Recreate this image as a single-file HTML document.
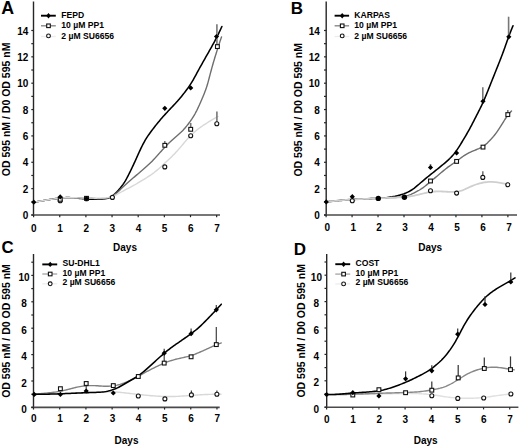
<!DOCTYPE html>
<html><head><meta charset="utf-8"><style>
html,body{margin:0;padding:0;background:#fff;}
body{width:520px;height:447px;overflow:hidden;}
svg{display:block;}
text{font-family:"Liberation Sans",sans-serif;font-weight:bold;fill:#000;}
</style></head><body>
<svg width="520" height="447" viewBox="0 0 520 447">
<rect width="520" height="447" fill="#fff"/>
<text x="1.30" y="13.60" font-size="17.80" text-anchor="start" font-family="Liberation Sans" font-weight="bold" >A</text>
<line x1="33.50" y1="1.50" x2="33.50" y2="215.70" stroke="#262626" stroke-width="1.4"/>
<line x1="31.30" y1="215.00" x2="220.00" y2="215.00" stroke="#4a4a4a" stroke-width="1.6"/>
<line x1="31.30" y1="215.00" x2="33.50" y2="215.00" stroke="#262626" stroke-width="1.2"/>
<text x="28.40" y="219.20" font-size="10.00" text-anchor="end" font-family="Liberation Sans" font-weight="bold" >0</text>
<line x1="31.30" y1="201.82" x2="33.50" y2="201.82" stroke="#262626" stroke-width="1.2"/>
<line x1="31.30" y1="188.64" x2="33.50" y2="188.64" stroke="#262626" stroke-width="1.2"/>
<text x="28.40" y="192.84" font-size="10.00" text-anchor="end" font-family="Liberation Sans" font-weight="bold" >2</text>
<line x1="31.30" y1="175.46" x2="33.50" y2="175.46" stroke="#262626" stroke-width="1.2"/>
<line x1="31.30" y1="162.28" x2="33.50" y2="162.28" stroke="#262626" stroke-width="1.2"/>
<text x="28.40" y="166.48" font-size="10.00" text-anchor="end" font-family="Liberation Sans" font-weight="bold" >4</text>
<line x1="31.30" y1="149.10" x2="33.50" y2="149.10" stroke="#262626" stroke-width="1.2"/>
<line x1="31.30" y1="135.92" x2="33.50" y2="135.92" stroke="#262626" stroke-width="1.2"/>
<text x="28.40" y="140.12" font-size="10.00" text-anchor="end" font-family="Liberation Sans" font-weight="bold" >6</text>
<line x1="31.30" y1="122.74" x2="33.50" y2="122.74" stroke="#262626" stroke-width="1.2"/>
<line x1="31.30" y1="109.56" x2="33.50" y2="109.56" stroke="#262626" stroke-width="1.2"/>
<text x="28.40" y="113.76" font-size="10.00" text-anchor="end" font-family="Liberation Sans" font-weight="bold" >8</text>
<line x1="31.30" y1="96.38" x2="33.50" y2="96.38" stroke="#262626" stroke-width="1.2"/>
<line x1="31.30" y1="83.20" x2="33.50" y2="83.20" stroke="#262626" stroke-width="1.2"/>
<text x="28.40" y="87.40" font-size="10.00" text-anchor="end" font-family="Liberation Sans" font-weight="bold" >10</text>
<line x1="31.30" y1="70.02" x2="33.50" y2="70.02" stroke="#262626" stroke-width="1.2"/>
<line x1="31.30" y1="56.84" x2="33.50" y2="56.84" stroke="#262626" stroke-width="1.2"/>
<text x="28.40" y="61.04" font-size="10.00" text-anchor="end" font-family="Liberation Sans" font-weight="bold" >12</text>
<line x1="31.30" y1="43.66" x2="33.50" y2="43.66" stroke="#262626" stroke-width="1.2"/>
<line x1="31.30" y1="30.48" x2="33.50" y2="30.48" stroke="#262626" stroke-width="1.2"/>
<text x="28.40" y="34.68" font-size="10.00" text-anchor="end" font-family="Liberation Sans" font-weight="bold" >14</text>
<line x1="33.60" y1="215.00" x2="33.60" y2="217.20" stroke="#262626" stroke-width="1.2"/>
<text x="33.90" y="231.70" font-size="10.00" text-anchor="middle" font-family="Liberation Sans" font-weight="bold" >0</text>
<line x1="59.75" y1="215.00" x2="59.75" y2="217.20" stroke="#262626" stroke-width="1.2"/>
<text x="60.05" y="231.70" font-size="10.00" text-anchor="middle" font-family="Liberation Sans" font-weight="bold" >1</text>
<line x1="85.90" y1="215.00" x2="85.90" y2="217.20" stroke="#262626" stroke-width="1.2"/>
<text x="86.20" y="231.70" font-size="10.00" text-anchor="middle" font-family="Liberation Sans" font-weight="bold" >2</text>
<line x1="112.05" y1="215.00" x2="112.05" y2="217.20" stroke="#262626" stroke-width="1.2"/>
<text x="112.35" y="231.70" font-size="10.00" text-anchor="middle" font-family="Liberation Sans" font-weight="bold" >3</text>
<line x1="138.20" y1="215.00" x2="138.20" y2="217.20" stroke="#262626" stroke-width="1.2"/>
<text x="138.50" y="231.70" font-size="10.00" text-anchor="middle" font-family="Liberation Sans" font-weight="bold" >4</text>
<line x1="164.35" y1="215.00" x2="164.35" y2="217.20" stroke="#262626" stroke-width="1.2"/>
<text x="164.65" y="231.70" font-size="10.00" text-anchor="middle" font-family="Liberation Sans" font-weight="bold" >5</text>
<line x1="190.50" y1="215.00" x2="190.50" y2="217.20" stroke="#262626" stroke-width="1.2"/>
<text x="190.80" y="231.70" font-size="10.00" text-anchor="middle" font-family="Liberation Sans" font-weight="bold" >6</text>
<line x1="216.65" y1="215.00" x2="216.65" y2="217.20" stroke="#262626" stroke-width="1.2"/>
<text x="216.95" y="231.70" font-size="10.00" text-anchor="middle" font-family="Liberation Sans" font-weight="bold" >7</text>
<text x="125.00" y="250.90" font-size="10.00" text-anchor="middle" font-family="Liberation Sans" font-weight="bold" >Days</text>
<text transform="translate(10.20,109.40) rotate(-90)" font-size="10.50" text-anchor="middle" font-family="Liberation Sans" font-weight="bold">OD 595 nM / D0 OD 595 nM</text>
<line x1="41.00" y1="15.70" x2="55.80" y2="15.70" stroke="#000" stroke-width="1.9"/>
<path d="M48.50,13.00L50.80,15.70L48.50,18.40L46.20,15.70Z" fill="#000"/>
<line x1="41.00" y1="25.80" x2="55.80" y2="25.80" stroke="#888" stroke-width="1.4"/>
<rect x="46.70" y="24.00" width="3.60" height="3.60" fill="#fff" stroke="#111" stroke-width="1.1"/>
<line x1="41.00" y1="36.50" x2="55.80" y2="36.50" stroke="#ececec" stroke-width="1.3"/>
<circle cx="48.50" cy="35.90" r="1.90" fill="#fff" stroke="#111" stroke-width="1.1"/>
<text x="61.30" y="17.80" font-size="8.60" text-anchor="start" font-family="Liberation Sans" font-weight="bold" >FEPD</text>
<text x="61.30" y="27.90" font-size="8.60" text-anchor="start" font-family="Liberation Sans" font-weight="bold" >10 &#181;M PP1</text>
<text x="61.30" y="38.60" font-size="8.60" text-anchor="start" font-family="Liberation Sans" font-weight="bold" >2 &#181;M SU6656</text>
<path d="M33.60,202.20L35.08,201.96L36.56,201.71L38.04,201.47L39.52,201.23L41.00,200.98L42.48,200.74L43.96,200.50L45.44,200.26L46.92,200.02L48.40,199.78L49.88,199.54L51.37,199.30L52.85,199.07L54.33,198.84L55.81,198.62L57.30,198.41L58.78,198.22L60.27,198.05L61.76,197.90L63.25,197.78L64.74,197.69L66.24,197.64L67.73,197.62L69.23,197.63L70.73,197.67L72.22,197.74L73.72,197.83L75.21,197.94L76.70,198.08L78.19,198.23L79.68,198.38L81.17,198.54L82.66,198.70L84.16,198.84L85.65,198.96L87.14,199.07L88.64,199.15L90.13,199.21L91.63,199.25L93.13,199.27L94.63,199.27L96.13,199.27L97.63,199.25L99.12,199.23L100.61,199.18L102.10,199.11L103.57,198.99L105.02,198.81L106.45,198.54L107.84,198.17L109.19,197.69L110.49,197.10L111.73,196.38L112.92,195.57L114.05,194.66L115.14,193.67L116.19,192.63L117.21,191.55L118.20,190.44L119.18,189.31L120.14,188.16L121.07,187.00L121.99,185.81L122.87,184.61L123.72,183.38L124.53,182.13L125.31,180.86L126.06,179.56L126.78,178.25L127.48,176.93L128.17,175.60L128.85,174.26L129.52,172.92L130.18,171.58L130.84,170.23L131.49,168.88L132.14,167.53L132.78,166.17L133.42,164.81L134.05,163.45L134.68,162.09L135.30,160.73L135.92,159.36L136.54,157.99L137.15,156.63L137.77,155.26L138.38,153.89L139.00,152.52L139.63,151.16L140.26,149.80L140.90,148.44L141.55,147.09L142.22,145.75L142.90,144.42L143.60,143.09L144.32,141.78L145.06,140.48L145.83,139.19L146.62,137.92L147.43,136.66L148.26,135.42L149.12,134.19L149.99,132.97L150.87,131.76L151.77,130.55L152.67,129.36L153.58,128.17L154.50,126.98L155.43,125.80L156.36,124.63L157.30,123.46L158.25,122.30L159.21,121.15L160.17,120.00L161.15,118.86L162.13,117.73L163.12,116.60L164.12,115.48L165.13,114.37L166.14,113.26L167.15,112.16L168.17,111.06L169.20,109.97L170.23,108.87L171.26,107.79L172.29,106.70L173.33,105.62L174.36,104.53L175.39,103.44L176.41,102.34L177.42,101.23L178.41,100.11L179.39,98.97L180.35,97.83L181.30,96.67L182.24,95.50L183.17,94.32L184.09,93.14L185.00,91.95L185.91,90.75L186.80,89.55L187.68,88.33L188.55,87.11L189.40,85.88L190.23,84.63L191.04,83.37L191.83,82.10L192.60,80.82L193.36,79.52L194.10,78.22L194.82,76.91L195.54,75.59L196.25,74.27L196.96,72.95L197.67,71.63L198.39,70.31L199.11,69.00L199.83,67.69L200.56,66.37L201.30,65.07L202.03,63.76L202.77,62.45L203.51,61.15L204.24,59.84L204.98,58.54L205.72,57.23L206.46,55.93L207.20,54.62L207.94,53.32L208.68,52.01L209.42,50.71L210.16,49.40L210.90,48.10L211.64,46.79L212.37,45.48L213.09,44.17L213.81,42.85L214.53,41.53L215.23,40.21L215.92,38.88L216.61,37.55L217.28,36.21L217.94,34.87L218.59,33.54L219.23,32.21L219.86,30.88L220.48,29.56L221.09,28.24L221.70,26.94L221.90,26.50" fill="none" stroke="#000" stroke-width="1.55" stroke-linecap="round" stroke-linejoin="round"/>
<path d="M33.60,202.20L35.08,201.95L36.56,201.71L38.04,201.47L39.52,201.22L41.00,200.98L42.48,200.74L43.96,200.49L45.44,200.25L46.92,200.01L48.40,199.77L49.88,199.54L51.37,199.30L52.85,199.08L54.33,198.86L55.82,198.65L57.30,198.46L58.79,198.28L60.28,198.13L61.77,197.99L63.27,197.88L64.76,197.79L66.26,197.72L67.76,197.67L69.25,197.65L70.75,197.64L72.25,197.64L73.75,197.66L75.25,197.68L76.75,197.71L78.25,197.75L79.75,197.79L81.25,197.82L82.75,197.86L84.25,197.91L85.74,197.96L87.24,198.03L88.74,198.10L90.23,198.20L91.73,198.31L93.22,198.42L94.71,198.55L96.21,198.66L97.70,198.76L99.19,198.83L100.68,198.86L102.16,198.84L103.63,198.75L105.10,198.59L106.54,198.34L107.96,197.99L109.34,197.55L110.69,197.01L111.99,196.36L113.24,195.62L114.45,194.80L115.61,193.90L116.74,192.95L117.84,191.95L118.93,190.93L120.00,189.89L121.08,188.84L122.15,187.80L123.24,186.76L124.33,185.74L125.43,184.72L126.54,183.71L127.65,182.71L128.78,181.72L129.91,180.74L131.05,179.76L132.19,178.79L133.33,177.82L134.48,176.85L135.62,175.88L136.77,174.91L137.91,173.94L139.05,172.97L140.19,171.99L141.33,171.02L142.47,170.04L143.61,169.06L144.74,168.07L145.86,167.08L146.98,166.08L148.08,165.07L149.18,164.05L150.26,163.01L151.33,161.96L152.38,160.89L153.42,159.81L154.45,158.72L155.47,157.62L156.48,156.51L157.48,155.40L158.48,154.28L159.47,153.16L160.47,152.04L161.47,150.92L162.48,149.81L163.49,148.70L164.52,147.61L165.55,146.52L166.59,145.44L167.64,144.38L168.71,143.32L169.79,142.28L170.88,141.26L171.98,140.24L173.10,139.24L174.23,138.26L175.36,137.28L176.50,136.30L177.63,135.32L178.75,134.34L179.86,133.33L180.95,132.31L182.02,131.26L183.06,130.18L184.07,129.08L185.06,127.96L186.03,126.82L186.97,125.66L187.90,124.48L188.80,123.29L189.69,122.08L190.56,120.86L191.41,119.63L192.25,118.39L193.05,117.13L193.84,115.85L194.60,114.56L195.33,113.26L196.03,111.94L196.72,110.61L197.38,109.26L198.02,107.91L198.65,106.55L199.27,105.18L199.88,103.81L200.49,102.44L201.09,101.07L201.68,99.69L202.27,98.31L202.85,96.93L203.43,95.54L204.00,94.16L204.55,92.76L205.09,91.37L205.61,89.96L206.11,88.55L206.59,87.13L207.04,85.70L207.47,84.27L207.89,82.83L208.29,81.38L208.68,79.93L209.06,78.48L209.43,77.03L209.81,75.58L210.19,74.13L210.57,72.68L210.96,71.23L211.35,69.78L211.74,68.34L212.14,66.89L212.55,65.45L212.96,64.00L213.38,62.56L213.80,61.12L214.23,59.69L214.66,58.25L215.10,56.82L215.54,55.38L215.99,53.95L216.44,52.52L216.88,51.09L217.33,49.66L217.79,48.23L218.24,46.80L218.70,45.38L219.15,43.96L219.62,42.56L220.08,41.15L220.55,39.76L221.03,38.38L221.50,37.00L221.50,37.00" fill="none" stroke="#6e6e6e" stroke-width="1.40" stroke-linecap="round" stroke-linejoin="round"/>
<path d="M33.60,202.20L35.08,201.95L36.56,201.71L38.04,201.47L39.52,201.22L41.00,200.98L42.48,200.74L43.96,200.49L45.44,200.25L46.92,200.01L48.40,199.78L49.88,199.54L51.37,199.31L52.85,199.08L54.33,198.87L55.82,198.66L57.30,198.46L58.79,198.29L60.28,198.13L61.77,198.00L63.27,197.89L64.76,197.80L66.26,197.74L67.76,197.70L69.25,197.69L70.75,197.69L72.25,197.71L73.75,197.74L75.25,197.78L76.75,197.82L78.25,197.87L79.75,197.92L81.25,197.96L82.74,198.00L84.24,198.04L85.74,198.07L87.24,198.09L88.74,198.11L90.24,198.13L91.74,198.15L93.24,198.17L94.74,198.18L96.24,198.18L97.74,198.17L99.24,198.15L100.74,198.11L102.23,198.05L103.72,197.96L105.21,197.83L106.69,197.65L108.15,197.43L109.60,197.14L111.03,196.78L112.44,196.35L113.81,195.84L115.17,195.26L116.50,194.62L117.81,193.93L119.11,193.21L120.41,192.49L121.72,191.76L123.03,191.04L124.35,190.33L125.68,189.64L127.01,188.95L128.35,188.27L129.68,187.59L131.01,186.90L132.33,186.19L133.65,185.47L134.95,184.74L136.25,183.99L137.54,183.22L138.82,182.45L140.10,181.66L141.37,180.88L142.65,180.10L143.93,179.31L145.21,178.53L146.49,177.75L147.76,176.96L149.02,176.16L150.27,175.34L151.51,174.49L152.72,173.62L153.92,172.72L155.09,171.80L156.25,170.85L157.40,169.89L158.53,168.91L159.65,167.91L160.76,166.91L161.87,165.90L162.98,164.89L164.08,163.87L165.18,162.85L166.28,161.83L167.37,160.80L168.47,159.77L169.55,158.74L170.63,157.70L171.70,156.65L172.76,155.59L173.81,154.52L174.85,153.44L175.88,152.35L176.90,151.25L177.90,150.14L178.90,149.01L179.88,147.89L180.86,146.75L181.83,145.61L182.80,144.46L183.76,143.31L184.73,142.16L185.70,141.02L186.67,139.88L187.66,138.75L188.66,137.64L189.68,136.55L190.73,135.48L191.79,134.43L192.88,133.41L194.00,132.41L195.14,131.44L196.30,130.49L197.47,129.57L198.67,128.66L199.87,127.78L201.09,126.91L202.32,126.05L203.56,125.20L204.81,124.37L206.06,123.55L207.32,122.74L208.59,121.94L209.86,121.16L211.14,120.39L212.42,119.63L213.71,118.89L214.99,118.16L216.28,117.44L217.57,116.74L218.00,116.50" fill="none" stroke="#d8d8d8" stroke-width="1.40" stroke-linecap="round" stroke-linejoin="round"/>
<line x1="216.90" y1="45.00" x2="216.90" y2="24.30" stroke="#777" stroke-width="1.60"/>
<line x1="216.90" y1="123.70" x2="216.90" y2="111.50" stroke="#777" stroke-width="1.60"/>
<line x1="190.70" y1="129.30" x2="190.70" y2="123.00" stroke="#777" stroke-width="1.60"/>
<line x1="164.80" y1="145.30" x2="164.80" y2="141.00" stroke="#777" stroke-width="1.60"/>
<circle cx="60.20" cy="200.80" r="2.00" fill="#fff" stroke="#111" stroke-width="1.1"/>
<circle cx="86.50" cy="198.80" r="2.00" fill="#fff" stroke="#111" stroke-width="1.1"/>
<circle cx="112.40" cy="197.40" r="2.00" fill="#fff" stroke="#111" stroke-width="1.1"/>
<circle cx="164.80" cy="166.90" r="2.00" fill="#fff" stroke="#111" stroke-width="1.1"/>
<circle cx="190.70" cy="135.80" r="2.00" fill="#fff" stroke="#111" stroke-width="1.1"/>
<circle cx="216.80" cy="123.70" r="2.00" fill="#fff" stroke="#111" stroke-width="1.1"/>
<rect x="58.30" y="197.40" width="3.80" height="3.80" fill="#fff" stroke="#111" stroke-width="1.1"/>
<rect x="84.60" y="196.40" width="3.80" height="3.80" fill="#fff" stroke="#111" stroke-width="1.1"/>
<rect x="162.90" y="143.40" width="3.80" height="3.80" fill="#fff" stroke="#111" stroke-width="1.1"/>
<rect x="188.80" y="127.40" width="3.80" height="3.80" fill="#fff" stroke="#111" stroke-width="1.1"/>
<rect x="215.50" y="44.70" width="3.80" height="3.80" fill="#fff" stroke="#111" stroke-width="1.1"/>
<path d="M33.80,199.60L36.40,202.20L33.80,204.80L31.20,202.20Z" fill="#000"/>
<path d="M60.20,194.30L62.80,196.90L60.20,199.50L57.60,196.90Z" fill="#000"/>
<path d="M86.50,196.00L89.10,198.60L86.50,201.20L83.90,198.60Z" fill="#000"/>
<path d="M164.80,105.70L167.40,108.30L164.80,110.90L162.20,108.30Z" fill="#000"/>
<path d="M190.70,85.30L193.30,87.90L190.70,90.50L188.10,87.90Z" fill="#000"/>
<path d="M216.50,33.90L219.10,36.50L216.50,39.10L213.90,36.50Z" fill="#000"/>
<text x="290.80" y="14.00" font-size="17.00" text-anchor="start" font-family="Liberation Sans" font-weight="bold" >B</text>
<line x1="326.20" y1="1.50" x2="326.20" y2="215.70" stroke="#262626" stroke-width="1.4"/>
<line x1="324.00" y1="215.00" x2="517.00" y2="215.00" stroke="#4a4a4a" stroke-width="1.6"/>
<line x1="324.00" y1="215.00" x2="326.20" y2="215.00" stroke="#262626" stroke-width="1.2"/>
<text x="319.80" y="219.20" font-size="10.00" text-anchor="end" font-family="Liberation Sans" font-weight="bold" >0</text>
<line x1="324.00" y1="201.82" x2="326.20" y2="201.82" stroke="#262626" stroke-width="1.2"/>
<line x1="324.00" y1="188.64" x2="326.20" y2="188.64" stroke="#262626" stroke-width="1.2"/>
<text x="319.80" y="192.84" font-size="10.00" text-anchor="end" font-family="Liberation Sans" font-weight="bold" >2</text>
<line x1="324.00" y1="175.46" x2="326.20" y2="175.46" stroke="#262626" stroke-width="1.2"/>
<line x1="324.00" y1="162.28" x2="326.20" y2="162.28" stroke="#262626" stroke-width="1.2"/>
<text x="319.80" y="166.48" font-size="10.00" text-anchor="end" font-family="Liberation Sans" font-weight="bold" >4</text>
<line x1="324.00" y1="149.10" x2="326.20" y2="149.10" stroke="#262626" stroke-width="1.2"/>
<line x1="324.00" y1="135.92" x2="326.20" y2="135.92" stroke="#262626" stroke-width="1.2"/>
<text x="319.80" y="140.12" font-size="10.00" text-anchor="end" font-family="Liberation Sans" font-weight="bold" >6</text>
<line x1="324.00" y1="122.74" x2="326.20" y2="122.74" stroke="#262626" stroke-width="1.2"/>
<line x1="324.00" y1="109.56" x2="326.20" y2="109.56" stroke="#262626" stroke-width="1.2"/>
<text x="319.80" y="113.76" font-size="10.00" text-anchor="end" font-family="Liberation Sans" font-weight="bold" >8</text>
<line x1="324.00" y1="96.38" x2="326.20" y2="96.38" stroke="#262626" stroke-width="1.2"/>
<line x1="324.00" y1="83.20" x2="326.20" y2="83.20" stroke="#262626" stroke-width="1.2"/>
<text x="319.80" y="87.40" font-size="10.00" text-anchor="end" font-family="Liberation Sans" font-weight="bold" >10</text>
<line x1="324.00" y1="70.02" x2="326.20" y2="70.02" stroke="#262626" stroke-width="1.2"/>
<line x1="324.00" y1="56.84" x2="326.20" y2="56.84" stroke="#262626" stroke-width="1.2"/>
<text x="319.80" y="61.04" font-size="10.00" text-anchor="end" font-family="Liberation Sans" font-weight="bold" >12</text>
<line x1="324.00" y1="43.66" x2="326.20" y2="43.66" stroke="#262626" stroke-width="1.2"/>
<line x1="324.00" y1="30.48" x2="326.20" y2="30.48" stroke="#262626" stroke-width="1.2"/>
<text x="319.80" y="34.68" font-size="10.00" text-anchor="end" font-family="Liberation Sans" font-weight="bold" >14</text>
<line x1="326.10" y1="215.00" x2="326.10" y2="217.20" stroke="#262626" stroke-width="1.2"/>
<text x="327.20" y="231.30" font-size="10.00" text-anchor="middle" font-family="Liberation Sans" font-weight="bold" >0</text>
<line x1="352.07" y1="215.00" x2="352.07" y2="217.20" stroke="#262626" stroke-width="1.2"/>
<text x="353.17" y="231.30" font-size="10.00" text-anchor="middle" font-family="Liberation Sans" font-weight="bold" >1</text>
<line x1="378.04" y1="215.00" x2="378.04" y2="217.20" stroke="#262626" stroke-width="1.2"/>
<text x="379.14" y="231.30" font-size="10.00" text-anchor="middle" font-family="Liberation Sans" font-weight="bold" >2</text>
<line x1="404.01" y1="215.00" x2="404.01" y2="217.20" stroke="#262626" stroke-width="1.2"/>
<text x="405.11" y="231.30" font-size="10.00" text-anchor="middle" font-family="Liberation Sans" font-weight="bold" >3</text>
<line x1="429.98" y1="215.00" x2="429.98" y2="217.20" stroke="#262626" stroke-width="1.2"/>
<text x="431.08" y="231.30" font-size="10.00" text-anchor="middle" font-family="Liberation Sans" font-weight="bold" >4</text>
<line x1="455.95" y1="215.00" x2="455.95" y2="217.20" stroke="#262626" stroke-width="1.2"/>
<text x="457.05" y="231.30" font-size="10.00" text-anchor="middle" font-family="Liberation Sans" font-weight="bold" >5</text>
<line x1="481.92" y1="215.00" x2="481.92" y2="217.20" stroke="#262626" stroke-width="1.2"/>
<text x="483.02" y="231.30" font-size="10.00" text-anchor="middle" font-family="Liberation Sans" font-weight="bold" >6</text>
<line x1="507.89" y1="215.00" x2="507.89" y2="217.20" stroke="#262626" stroke-width="1.2"/>
<text x="508.99" y="231.30" font-size="10.00" text-anchor="middle" font-family="Liberation Sans" font-weight="bold" >7</text>
<text x="430.20" y="250.80" font-size="10.00" text-anchor="middle" font-family="Liberation Sans" font-weight="bold" >Days</text>
<text transform="translate(301.90,109.80) rotate(-90)" font-size="10.50" text-anchor="middle" font-family="Liberation Sans" font-weight="bold">OD 595 nM / D0 OD 595 nM</text>
<line x1="334.60" y1="15.70" x2="349.10" y2="15.70" stroke="#000" stroke-width="1.9"/>
<path d="M342.20,13.00L344.50,15.70L342.20,18.40L339.90,15.70Z" fill="#000"/>
<line x1="334.60" y1="25.80" x2="349.10" y2="25.80" stroke="#888" stroke-width="1.4"/>
<rect x="340.40" y="24.00" width="3.60" height="3.60" fill="#fff" stroke="#111" stroke-width="1.1"/>
<line x1="334.60" y1="36.50" x2="349.10" y2="36.50" stroke="#ececec" stroke-width="1.3"/>
<circle cx="342.20" cy="35.90" r="1.90" fill="#fff" stroke="#111" stroke-width="1.1"/>
<text x="354.30" y="17.80" font-size="8.60" text-anchor="start" font-family="Liberation Sans" font-weight="bold" >KARPAS</text>
<text x="354.30" y="27.90" font-size="8.60" text-anchor="start" font-family="Liberation Sans" font-weight="bold" >10 &#181;M PP1</text>
<text x="354.30" y="38.60" font-size="8.60" text-anchor="start" font-family="Liberation Sans" font-weight="bold" >2 &#181;M SU6656</text>
<path d="M326.30,201.90L327.79,201.74L329.28,201.58L330.77,201.42L332.27,201.26L333.76,201.10L335.25,200.95L336.74,200.80L338.24,200.66L339.73,200.52L341.22,200.38L342.72,200.25L344.21,200.13L345.71,200.01L347.20,199.89L348.70,199.78L350.19,199.67L351.69,199.57L353.19,199.48L354.68,199.39L356.18,199.30L357.68,199.22L359.18,199.15L360.68,199.08L362.17,199.01L363.67,198.94L365.17,198.88L366.67,198.82L368.17,198.75L369.67,198.69L371.17,198.62L372.66,198.56L374.16,198.49L375.66,198.41L377.16,198.33L378.66,198.24L380.15,198.15L381.65,198.05L383.14,197.94L384.64,197.81L386.13,197.67L387.62,197.51L389.10,197.33L390.59,197.12L392.06,196.88L393.53,196.60L395.00,196.30L396.45,195.96L397.91,195.60L399.35,195.21L400.79,194.79L402.21,194.35L403.63,193.87L405.02,193.35L406.40,192.79L407.75,192.17L409.07,191.50L410.36,190.77L411.62,189.99L412.85,189.15L414.05,188.27L415.22,187.35L416.38,186.41L417.53,185.44L418.67,184.47L419.81,183.49L420.94,182.52L422.08,181.54L423.23,180.57L424.37,179.60L425.52,178.64L426.68,177.69L427.84,176.74L429.01,175.80L430.18,174.86L431.35,173.92L432.53,172.99L433.70,172.06L434.87,171.12L436.05,170.19L437.22,169.25L438.39,168.31L439.56,167.37L440.72,166.42L441.88,165.47L443.03,164.51L444.18,163.55L445.32,162.57L446.45,161.59L447.56,160.59L448.66,159.57L449.74,158.54L450.79,157.48L451.82,156.39L452.82,155.28L453.78,154.14L454.71,152.97L455.61,151.78L456.48,150.57L457.33,149.33L458.16,148.09L458.98,146.83L459.78,145.56L460.57,144.29L461.35,143.01L462.13,141.73L462.91,140.45L463.68,139.16L464.45,137.87L465.21,136.58L465.97,135.29L466.72,133.99L467.47,132.69L468.21,131.38L468.94,130.07L469.66,128.76L470.38,127.44L471.09,126.12L471.79,124.79L472.48,123.46L473.17,122.13L473.86,120.80L474.54,119.46L475.22,118.13L475.90,116.79L476.59,115.45L477.27,114.12L477.95,112.78L478.63,111.45L479.31,110.11L479.98,108.77L480.65,107.43L481.31,106.08L481.95,104.72L482.58,103.36L483.20,102.00L483.80,100.63L484.40,99.25L484.98,97.87L485.56,96.49L486.13,95.10L486.70,93.71L487.26,92.32L487.82,90.93L488.38,89.54L488.94,88.14L489.49,86.75L490.05,85.36L490.60,83.96L491.16,82.57L491.71,81.18L492.27,79.78L492.83,78.39L493.38,77.00L493.94,75.60L494.50,74.21L495.05,72.82L495.61,71.43L496.17,70.03L496.72,68.64L497.28,67.25L497.84,65.85L498.39,64.46L498.95,63.07L499.50,61.67L500.05,60.28L500.60,58.88L501.14,57.48L501.68,56.08L502.21,54.68L502.74,53.28L503.26,51.87L503.77,50.46L504.28,49.05L504.78,47.64L505.28,46.22L505.77,44.81L506.27,43.39L506.77,41.98L507.28,40.56L507.79,39.15L508.30,37.75L508.82,36.34L509.35,34.94L509.89,33.54L510.43,32.15L510.97,30.76L511.52,29.37L512.08,27.99L512.63,26.62L513.00,25.70" fill="none" stroke="#000" stroke-width="1.55" stroke-linecap="round" stroke-linejoin="round"/>
<path d="M326.30,201.90L327.79,201.71L329.28,201.53L330.77,201.35L332.25,201.16L333.74,200.99L335.23,200.81L336.72,200.65L338.22,200.48L339.71,200.33L341.20,200.18L342.69,200.04L344.19,199.90L345.68,199.78L347.18,199.67L348.67,199.56L350.17,199.46L351.67,199.37L353.16,199.29L354.66,199.21L356.16,199.14L357.66,199.07L359.16,199.00L360.65,198.94L362.15,198.87L363.65,198.81L365.15,198.75L366.65,198.69L368.15,198.62L369.65,198.56L371.15,198.50L372.64,198.44L374.14,198.37L375.64,198.31L377.14,198.25L378.64,198.18L380.14,198.12L381.64,198.06L383.13,197.99L384.63,197.93L386.13,197.86L387.63,197.80L389.13,197.73L390.63,197.66L392.13,197.59L393.62,197.52L395.12,197.44L396.62,197.36L398.11,197.26L399.60,197.14L401.08,196.99L402.55,196.79L404.01,196.53L405.45,196.22L406.87,195.83L408.28,195.38L409.67,194.86L411.04,194.30L412.40,193.69L413.75,193.05L415.09,192.39L416.42,191.70L417.73,190.99L419.03,190.25L420.31,189.48L421.57,188.67L422.80,187.83L424.00,186.95L425.19,186.05L426.36,185.11L427.51,184.16L428.65,183.19L429.79,182.22L430.94,181.25L432.08,180.28L433.23,179.31L434.38,178.35L435.53,177.40L436.69,176.44L437.84,175.48L438.99,174.52L440.13,173.55L441.28,172.58L442.42,171.61L443.56,170.64L444.71,169.68L445.88,168.74L447.06,167.83L448.25,166.93L449.47,166.06L450.70,165.21L451.94,164.38L453.18,163.54L454.41,162.70L455.64,161.85L456.86,160.98L458.06,160.09L459.26,159.20L460.45,158.30L461.65,157.41L462.87,156.54L464.10,155.70L465.36,154.90L466.63,154.13L467.94,153.41L469.26,152.72L470.61,152.08L471.97,151.46L473.34,150.87L474.72,150.30L476.11,149.73L477.48,149.15L478.85,148.56L480.19,147.93L481.50,147.25L482.77,146.51L483.99,145.71L485.17,144.83L486.31,143.89L487.40,142.90L488.47,141.87L489.51,140.80L490.53,139.72L491.54,138.61L492.53,137.49L493.51,136.36L494.46,135.20L495.38,134.03L496.28,132.83L497.15,131.62L498.00,130.39L498.83,129.14L499.64,127.88L500.45,126.62L501.24,125.34L502.03,124.07L502.82,122.79L503.61,121.52L504.40,120.25L505.21,119.00L506.03,117.76L506.87,116.55L507.75,115.37L508.65,114.23L509.58,113.13L510.53,112.06L511.50,111.00L511.50,111.00" fill="none" stroke="#6e6e6e" stroke-width="1.40" stroke-linecap="round" stroke-linejoin="round"/>
<path d="M326.30,201.90L327.79,201.73L329.28,201.57L330.77,201.40L332.26,201.24L333.75,201.08L335.25,200.92L336.74,200.77L338.23,200.62L339.72,200.48L341.22,200.34L342.71,200.21L344.21,200.08L345.70,199.97L347.20,199.86L348.69,199.75L350.19,199.66L351.69,199.57L353.18,199.48L354.68,199.40L356.18,199.32L357.68,199.25L359.18,199.17L360.68,199.10L362.17,199.03L363.67,198.96L365.17,198.89L366.67,198.82L368.17,198.76L369.67,198.69L371.16,198.62L372.66,198.55L374.16,198.49L375.66,198.42L377.16,198.35L378.66,198.29L380.16,198.22L381.65,198.16L383.15,198.10L384.65,198.03L386.15,197.97L387.65,197.91L389.15,197.85L390.65,197.79L392.14,197.73L393.64,197.66L395.14,197.60L396.64,197.53L398.14,197.46L399.64,197.38L401.13,197.30L402.63,197.20L404.12,197.08L405.61,196.94L407.10,196.77L408.58,196.58L410.06,196.36L411.54,196.11L413.01,195.84L414.48,195.55L415.95,195.24L417.41,194.91L418.87,194.57L420.33,194.22L421.78,193.86L423.24,193.50L424.69,193.14L426.15,192.80L427.61,192.48L429.07,192.19L430.54,191.94L432.02,191.73L433.50,191.58L434.99,191.48L436.48,191.42L437.97,191.40L439.47,191.41L440.96,191.45L442.46,191.51L443.96,191.59L445.45,191.67L446.95,191.76L448.44,191.83L449.94,191.89L451.43,191.92L452.92,191.92L454.41,191.87L455.88,191.76L457.34,191.58L458.79,191.32L460.22,190.98L461.63,190.56L463.02,190.07L464.39,189.51L465.75,188.91L467.10,188.28L468.45,187.64L469.80,187.01L471.16,186.39L472.53,185.81L473.92,185.26L475.32,184.74L476.73,184.26L478.16,183.83L479.60,183.43L481.05,183.07L482.51,182.75L483.97,182.48L485.45,182.26L486.93,182.09L488.41,181.97L489.89,181.91L491.38,181.91L492.87,181.97L494.35,182.07L495.84,182.22L497.31,182.40L498.78,182.61L500.25,182.85L501.69,183.10L503.13,183.37L504.54,183.64L505.94,183.92L507.34,184.21L507.80,184.30" fill="none" stroke="#cfcfcf" stroke-width="1.80" stroke-linecap="round" stroke-linejoin="round"/>
<line x1="508.60" y1="36.80" x2="508.60" y2="16.70" stroke="#777" stroke-width="1.60"/>
<line x1="482.80" y1="101.50" x2="482.80" y2="87.20" stroke="#777" stroke-width="1.60"/>
<line x1="482.80" y1="177.40" x2="482.80" y2="171.30" stroke="#777" stroke-width="1.60"/>
<line x1="507.80" y1="114.60" x2="507.80" y2="110.00" stroke="#777" stroke-width="1.60"/>
<line x1="430.50" y1="167.50" x2="430.50" y2="164.00" stroke="#777" stroke-width="1.60"/>
<circle cx="352.30" cy="200.80" r="2.00" fill="#fff" stroke="#111" stroke-width="1.1"/>
<circle cx="430.50" cy="190.70" r="2.00" fill="#fff" stroke="#111" stroke-width="1.1"/>
<circle cx="456.60" cy="193.10" r="2.00" fill="#fff" stroke="#111" stroke-width="1.1"/>
<circle cx="482.80" cy="177.40" r="2.00" fill="#fff" stroke="#111" stroke-width="1.1"/>
<circle cx="507.80" cy="184.80" r="2.00" fill="#fff" stroke="#111" stroke-width="1.1"/>
<rect x="428.60" y="179.10" width="3.80" height="3.80" fill="#fff" stroke="#111" stroke-width="1.1"/>
<rect x="454.70" y="159.50" width="3.80" height="3.80" fill="#fff" stroke="#111" stroke-width="1.1"/>
<rect x="481.10" y="145.20" width="3.80" height="3.80" fill="#fff" stroke="#111" stroke-width="1.1"/>
<rect x="505.90" y="112.70" width="3.80" height="3.80" fill="#fff" stroke="#111" stroke-width="1.1"/>
<path d="M326.30,199.30L328.90,201.90L326.30,204.50L323.70,201.90Z" fill="#000"/>
<path d="M352.30,194.10L354.90,196.70L352.30,199.30L349.70,196.70Z" fill="#000"/>
<path d="M430.50,164.90L433.10,167.50L430.50,170.10L427.90,167.50Z" fill="#000"/>
<path d="M456.60,150.40L459.20,153.00L456.60,155.60L454.00,153.00Z" fill="#000"/>
<path d="M483.00,98.70L485.60,101.30L483.00,103.90L480.40,101.30Z" fill="#000"/>
<path d="M508.80,34.20L511.40,36.80L508.80,39.40L506.20,36.80Z" fill="#000"/>
<circle cx="378.30" cy="198.40" r="2.7" fill="#000"/>
<circle cx="404.40" cy="197.20" r="2.7" fill="#000"/>
<text x="1.40" y="253.30" font-size="16.80" text-anchor="start" font-family="Liberation Sans" font-weight="bold" >C</text>
<line x1="33.50" y1="254.00" x2="33.50" y2="408.10" stroke="#262626" stroke-width="1.4"/>
<line x1="31.30" y1="407.40" x2="219.70" y2="407.40" stroke="#4a4a4a" stroke-width="1.6"/>
<line x1="31.30" y1="407.40" x2="33.50" y2="407.40" stroke="#262626" stroke-width="1.2"/>
<text x="24.00" y="413.00" font-size="10.00" text-anchor="middle" font-family="Liberation Sans" font-weight="bold" >0</text>
<line x1="31.30" y1="394.20" x2="33.50" y2="394.20" stroke="#262626" stroke-width="1.2"/>
<line x1="31.30" y1="381.00" x2="33.50" y2="381.00" stroke="#262626" stroke-width="1.2"/>
<text x="24.00" y="386.60" font-size="10.00" text-anchor="middle" font-family="Liberation Sans" font-weight="bold" >2</text>
<line x1="31.30" y1="367.80" x2="33.50" y2="367.80" stroke="#262626" stroke-width="1.2"/>
<line x1="31.30" y1="354.60" x2="33.50" y2="354.60" stroke="#262626" stroke-width="1.2"/>
<text x="24.00" y="360.20" font-size="10.00" text-anchor="middle" font-family="Liberation Sans" font-weight="bold" >4</text>
<line x1="31.30" y1="341.40" x2="33.50" y2="341.40" stroke="#262626" stroke-width="1.2"/>
<line x1="31.30" y1="328.20" x2="33.50" y2="328.20" stroke="#262626" stroke-width="1.2"/>
<text x="24.00" y="333.80" font-size="10.00" text-anchor="middle" font-family="Liberation Sans" font-weight="bold" >6</text>
<line x1="31.30" y1="315.00" x2="33.50" y2="315.00" stroke="#262626" stroke-width="1.2"/>
<line x1="31.30" y1="301.80" x2="33.50" y2="301.80" stroke="#262626" stroke-width="1.2"/>
<text x="24.00" y="307.40" font-size="10.00" text-anchor="middle" font-family="Liberation Sans" font-weight="bold" >8</text>
<line x1="31.30" y1="288.60" x2="33.50" y2="288.60" stroke="#262626" stroke-width="1.2"/>
<line x1="31.30" y1="275.40" x2="33.50" y2="275.40" stroke="#262626" stroke-width="1.2"/>
<text x="24.00" y="281.00" font-size="10.00" text-anchor="middle" font-family="Liberation Sans" font-weight="bold" >10</text>
<line x1="31.30" y1="262.20" x2="33.50" y2="262.20" stroke="#262626" stroke-width="1.2"/>
<line x1="33.50" y1="407.40" x2="33.50" y2="409.60" stroke="#262626" stroke-width="1.2"/>
<text x="33.80" y="421.50" font-size="10.00" text-anchor="middle" font-family="Liberation Sans" font-weight="bold" >0</text>
<line x1="59.71" y1="407.40" x2="59.71" y2="409.60" stroke="#262626" stroke-width="1.2"/>
<text x="60.01" y="421.50" font-size="10.00" text-anchor="middle" font-family="Liberation Sans" font-weight="bold" >1</text>
<line x1="85.92" y1="407.40" x2="85.92" y2="409.60" stroke="#262626" stroke-width="1.2"/>
<text x="86.22" y="421.50" font-size="10.00" text-anchor="middle" font-family="Liberation Sans" font-weight="bold" >2</text>
<line x1="112.13" y1="407.40" x2="112.13" y2="409.60" stroke="#262626" stroke-width="1.2"/>
<text x="112.43" y="421.50" font-size="10.00" text-anchor="middle" font-family="Liberation Sans" font-weight="bold" >3</text>
<line x1="138.34" y1="407.40" x2="138.34" y2="409.60" stroke="#262626" stroke-width="1.2"/>
<text x="138.64" y="421.50" font-size="10.00" text-anchor="middle" font-family="Liberation Sans" font-weight="bold" >4</text>
<line x1="164.55" y1="407.40" x2="164.55" y2="409.60" stroke="#262626" stroke-width="1.2"/>
<text x="164.85" y="421.50" font-size="10.00" text-anchor="middle" font-family="Liberation Sans" font-weight="bold" >5</text>
<line x1="190.76" y1="407.40" x2="190.76" y2="409.60" stroke="#262626" stroke-width="1.2"/>
<text x="191.06" y="421.50" font-size="10.00" text-anchor="middle" font-family="Liberation Sans" font-weight="bold" >6</text>
<line x1="216.97" y1="407.40" x2="216.97" y2="409.60" stroke="#262626" stroke-width="1.2"/>
<text x="217.27" y="421.50" font-size="10.00" text-anchor="middle" font-family="Liberation Sans" font-weight="bold" >7</text>
<text x="126.50" y="444.00" font-size="10.00" text-anchor="middle" font-family="Liberation Sans" font-weight="bold" >Days</text>
<text transform="translate(10.20,331.00) rotate(-90)" font-size="10.50" text-anchor="middle" font-family="Liberation Sans" font-weight="bold">OD 595 nM / D0 OD 595 nM</text>
<line x1="42.30" y1="264.40" x2="57.20" y2="264.40" stroke="#000" stroke-width="1.9"/>
<path d="M50.20,261.70L52.50,264.40L50.20,267.10L47.90,264.40Z" fill="#000"/>
<line x1="42.30" y1="274.00" x2="57.20" y2="274.00" stroke="#aaa" stroke-width="1.4"/>
<rect x="48.40" y="272.20" width="3.60" height="3.60" fill="#fff" stroke="#111" stroke-width="1.1"/>
<line x1="42.30" y1="283.80" x2="57.20" y2="283.80" stroke="#ececec" stroke-width="1.3"/>
<circle cx="50.20" cy="283.80" r="1.90" fill="#fff" stroke="#111" stroke-width="1.1"/>
<text x="62.50" y="265.90" font-size="8.60" text-anchor="start" font-family="Liberation Sans" font-weight="bold" >SU-DHL1</text>
<text x="62.50" y="275.50" font-size="8.60" text-anchor="start" font-family="Liberation Sans" font-weight="bold" >10 &#181;M PP1</text>
<text x="62.50" y="285.30" font-size="8.60" text-anchor="start" font-family="Liberation Sans" font-weight="bold" >2 &#181;M SU6656</text>
<path d="M34.20,394.20L35.70,394.15L37.20,394.11L38.70,394.06L40.20,394.02L41.70,393.97L43.20,393.93L44.70,393.88L46.19,393.83L47.69,393.79L49.19,393.74L50.69,393.70L52.19,393.65L53.69,393.61L55.19,393.56L56.69,393.51L58.19,393.47L59.69,393.42L61.19,393.38L62.69,393.33L64.19,393.28L65.69,393.24L67.18,393.19L68.68,393.14L70.18,393.10L71.68,393.05L73.18,393.00L74.68,392.96L76.18,392.91L77.68,392.86L79.18,392.82L80.68,392.77L82.18,392.72L83.68,392.67L85.18,392.62L86.67,392.56L88.17,392.50L89.67,392.44L91.17,392.38L92.67,392.31L94.17,392.24L95.67,392.17L97.16,392.10L98.66,392.03L100.16,391.96L101.66,391.90L103.16,391.84L104.66,391.79L106.15,391.76L107.65,391.74L109.15,391.74L110.65,391.75L112.15,391.79L113.64,391.86L115.14,391.95L116.63,392.05L118.13,392.18L119.62,392.32L121.11,392.47L122.60,392.63L124.09,392.80L125.58,392.97L127.07,393.14L128.56,393.31L130.05,393.49L131.54,393.66L133.03,393.83L134.52,394.00L136.01,394.17L137.50,394.34L138.99,394.50L140.49,394.66L141.98,394.82L143.47,394.98L144.96,395.13L146.45,395.27L147.95,395.42L149.44,395.55L150.94,395.68L152.43,395.80L153.93,395.92L155.42,396.02L156.92,396.12L158.42,396.20L159.91,396.28L161.41,396.34L162.91,396.40L164.41,396.44L165.91,396.48L167.41,396.51L168.91,396.53L170.41,396.53L171.90,396.52L173.40,396.50L174.90,396.46L176.40,396.40L177.90,396.33L179.39,396.25L180.89,396.16L182.39,396.06L183.88,395.95L185.38,395.85L186.88,395.74L188.37,395.63L189.87,395.52L191.36,395.41L192.86,395.31L194.36,395.20L195.85,395.10L197.35,395.00L198.85,394.90L200.34,394.81L201.84,394.72L203.34,394.64L204.84,394.56L206.33,394.49L207.83,394.43L209.33,394.38L210.82,394.33L212.31,394.30L213.79,394.27L215.25,394.25L216.71,394.23L218.15,394.22L219.58,394.21L221.00,394.20L221.00,394.20" fill="none" stroke="#d8d8d8" stroke-width="1.40" stroke-linecap="round" stroke-linejoin="round"/>
<path d="M34.20,394.20L35.69,394.06L37.19,393.93L38.68,393.79L40.18,393.65L41.67,393.51L43.16,393.37L44.66,393.23L46.15,393.09L47.64,392.95L49.13,392.80L50.63,392.64L52.12,392.48L53.60,392.30L55.09,392.11L56.57,391.89L58.05,391.65L59.52,391.39L60.99,391.10L62.45,390.78L63.91,390.44L65.37,390.09L66.82,389.72L68.28,389.35L69.73,388.97L71.18,388.59L72.63,388.21L74.08,387.85L75.54,387.50L77.00,387.17L78.46,386.86L79.93,386.58L81.41,386.34L82.89,386.13L84.37,385.95L85.86,385.81L87.35,385.70L88.85,385.63L90.34,385.59L91.84,385.58L93.34,385.60L94.83,385.65L96.33,385.72L97.82,385.82L99.31,385.93L100.80,386.04L102.29,386.14L103.79,386.23L105.28,386.28L106.77,386.29L108.26,386.26L109.75,386.17L111.23,386.05L112.71,385.87L114.19,385.66L115.66,385.39L117.12,385.09L118.57,384.73L120.00,384.34L121.43,383.90L122.84,383.41L124.25,382.90L125.64,382.35L127.02,381.78L128.40,381.18L129.76,380.57L131.12,379.94L132.48,379.30L133.83,378.64L135.16,377.97L136.49,377.28L137.81,376.57L139.13,375.85L140.43,375.12L141.74,374.38L143.04,373.64L144.35,372.91L145.66,372.19L146.98,371.48L148.31,370.78L149.64,370.09L150.97,369.41L152.31,368.73L153.65,368.06L154.99,367.39L156.34,366.73L157.68,366.07L159.04,365.42L160.39,364.78L161.76,364.16L163.13,363.56L164.51,362.99L165.90,362.43L167.30,361.91L168.71,361.41L170.13,360.93L171.56,360.48L173.00,360.05L174.44,359.65L175.89,359.27L177.34,358.91L178.80,358.56L180.26,358.23L181.73,357.91L183.19,357.60L184.65,357.27L186.11,356.93L187.56,356.57L189.00,356.18L190.44,355.75L191.86,355.30L193.27,354.81L194.68,354.29L196.07,353.75L197.46,353.18L198.84,352.60L200.22,352.01L201.59,351.40L202.96,350.79L204.32,350.17L205.69,349.54L207.05,348.92L208.41,348.28L209.77,347.65L211.13,347.03L212.50,346.42L213.87,345.82L215.25,345.23L216.64,344.67L218.03,344.12L219.43,343.59L220.83,343.07L221.30,342.90" fill="none" stroke="#808080" stroke-width="1.40" stroke-linecap="round" stroke-linejoin="round"/>
<path d="M34.20,394.40L35.70,394.38L37.20,394.35L38.70,394.33L40.20,394.30L41.70,394.28L43.20,394.25L44.70,394.22L46.20,394.19L47.70,394.15L49.20,394.12L50.70,394.08L52.20,394.04L53.70,394.00L55.19,393.96L56.69,393.91L58.19,393.86L59.69,393.81L61.19,393.76L62.69,393.70L64.19,393.65L65.69,393.59L67.19,393.53L68.69,393.47L70.18,393.40L71.68,393.34L73.18,393.27L74.68,393.21L76.18,393.14L77.68,393.08L79.18,393.01L80.67,392.94L82.17,392.88L83.67,392.82L85.17,392.76L86.67,392.70L88.17,392.65L89.67,392.60L91.17,392.55L92.67,392.51L94.16,392.46L95.66,392.41L97.16,392.35L98.66,392.27L100.15,392.18L101.64,392.06L103.12,391.90L104.60,391.71L106.07,391.47L107.54,391.18L108.99,390.84L110.43,390.46L111.86,390.03L113.27,389.56L114.66,389.04L116.04,388.47L117.40,387.85L118.74,387.20L120.06,386.50L121.37,385.78L122.67,385.04L123.96,384.29L125.25,383.53L126.55,382.77L127.84,382.01L129.13,381.25L130.43,380.51L131.73,379.76L133.03,379.02L134.32,378.27L135.60,377.50L136.87,376.70L138.11,375.88L139.33,375.02L140.52,374.13L141.70,373.21L142.85,372.26L144.00,371.30L145.13,370.32L146.26,369.33L147.38,368.33L148.50,367.33L149.61,366.33L150.73,365.33L151.84,364.32L152.96,363.32L154.07,362.31L155.18,361.31L156.29,360.30L157.41,359.29L158.52,358.29L159.64,357.29L160.76,356.29L161.88,355.30L163.01,354.31L164.15,353.34L165.29,352.37L166.45,351.41L167.62,350.47L168.79,349.55L169.98,348.63L171.18,347.74L172.39,346.85L173.61,345.97L174.83,345.10L176.05,344.24L177.28,343.38L178.52,342.52L179.75,341.67L180.98,340.81L182.21,339.96L183.44,339.10L184.67,338.24L185.90,337.38L187.12,336.51L188.35,335.64L189.56,334.77L190.78,333.88L191.98,332.99L193.18,332.09L194.37,331.18L195.54,330.25L196.70,329.30L197.84,328.33L198.96,327.34L200.07,326.33L201.16,325.31L202.24,324.27L203.31,323.22L204.38,322.16L205.43,321.09L206.48,320.02L207.53,318.95L208.57,317.87L209.61,316.79L210.65,315.71L211.69,314.63L212.72,313.54L213.75,312.46L214.77,311.37L215.79,310.28L216.79,309.20L217.78,308.12L218.75,307.04L219.71,305.97L220.67,304.91L221.30,304.20" fill="none" stroke="#000" stroke-width="1.55" stroke-linecap="round" stroke-linejoin="round"/>
<line x1="164.20" y1="363.10" x2="164.20" y2="348.80" stroke="#404040" stroke-width="1.20"/>
<line x1="191.10" y1="333.70" x2="191.10" y2="328.60" stroke="#404040" stroke-width="1.20"/>
<line x1="216.30" y1="309.80" x2="216.30" y2="305.10" stroke="#404040" stroke-width="1.20"/>
<line x1="216.30" y1="344.60" x2="216.30" y2="326.90" stroke="#404040" stroke-width="1.20"/>
<line x1="86.20" y1="391.00" x2="86.20" y2="384.50" stroke="#404040" stroke-width="1.20"/>
<line x1="191.40" y1="394.90" x2="191.40" y2="390.50" stroke="#404040" stroke-width="1.20"/>
<line x1="216.90" y1="394.20" x2="216.90" y2="390.50" stroke="#404040" stroke-width="1.20"/>
<circle cx="138.30" cy="396.00" r="2.00" fill="#fff" stroke="#111" stroke-width="1.1"/>
<circle cx="164.90" cy="398.90" r="2.00" fill="#fff" stroke="#111" stroke-width="1.1"/>
<circle cx="191.40" cy="394.90" r="2.00" fill="#fff" stroke="#111" stroke-width="1.1"/>
<circle cx="216.90" cy="394.20" r="2.00" fill="#fff" stroke="#111" stroke-width="1.1"/>
<rect x="58.50" y="386.80" width="3.80" height="3.80" fill="#fff" stroke="#111" stroke-width="1.1"/>
<rect x="84.30" y="381.60" width="3.80" height="3.80" fill="#fff" stroke="#111" stroke-width="1.1"/>
<rect x="111.40" y="383.70" width="3.80" height="3.80" fill="#fff" stroke="#111" stroke-width="1.1"/>
<rect x="136.40" y="374.60" width="3.80" height="3.80" fill="#fff" stroke="#111" stroke-width="1.1"/>
<rect x="162.30" y="361.20" width="3.80" height="3.80" fill="#fff" stroke="#111" stroke-width="1.1"/>
<rect x="189.20" y="354.90" width="3.80" height="3.80" fill="#fff" stroke="#111" stroke-width="1.1"/>
<rect x="214.40" y="342.70" width="3.80" height="3.80" fill="#fff" stroke="#111" stroke-width="1.1"/>
<path d="M34.20,391.80L36.80,394.40L34.20,397.00L31.60,394.40Z" fill="#000"/>
<path d="M60.40,391.80L63.00,394.40L60.40,397.00L57.80,394.40Z" fill="#000"/>
<path d="M86.20,388.40L88.80,391.00L86.20,393.60L83.60,391.00Z" fill="#000"/>
<path d="M113.30,390.40L115.90,393.00L113.30,395.60L110.70,393.00Z" fill="#000"/>
<path d="M164.20,350.60L166.80,353.20L164.20,355.80L161.60,353.20Z" fill="#000"/>
<path d="M191.10,331.10L193.70,333.70L191.10,336.30L188.50,333.70Z" fill="#000"/>
<path d="M216.30,307.20L218.90,309.80L216.30,312.40L213.70,309.80Z" fill="#000"/>
<text x="293.80" y="255.40" font-size="17.00" text-anchor="start" font-family="Liberation Sans" font-weight="bold" >D</text>
<line x1="326.70" y1="254.00" x2="326.70" y2="407.90" stroke="#262626" stroke-width="1.4"/>
<line x1="324.50" y1="407.20" x2="518.40" y2="407.20" stroke="#4a4a4a" stroke-width="1.6"/>
<line x1="324.50" y1="407.20" x2="326.70" y2="407.20" stroke="#262626" stroke-width="1.2"/>
<text x="316.40" y="412.80" font-size="10.00" text-anchor="middle" font-family="Liberation Sans" font-weight="bold" >0</text>
<line x1="324.50" y1="394.00" x2="326.70" y2="394.00" stroke="#262626" stroke-width="1.2"/>
<line x1="324.50" y1="380.80" x2="326.70" y2="380.80" stroke="#262626" stroke-width="1.2"/>
<text x="316.40" y="386.40" font-size="10.00" text-anchor="middle" font-family="Liberation Sans" font-weight="bold" >2</text>
<line x1="324.50" y1="367.60" x2="326.70" y2="367.60" stroke="#262626" stroke-width="1.2"/>
<line x1="324.50" y1="354.40" x2="326.70" y2="354.40" stroke="#262626" stroke-width="1.2"/>
<text x="316.40" y="360.00" font-size="10.00" text-anchor="middle" font-family="Liberation Sans" font-weight="bold" >4</text>
<line x1="324.50" y1="341.20" x2="326.70" y2="341.20" stroke="#262626" stroke-width="1.2"/>
<line x1="324.50" y1="328.00" x2="326.70" y2="328.00" stroke="#262626" stroke-width="1.2"/>
<text x="316.40" y="333.60" font-size="10.00" text-anchor="middle" font-family="Liberation Sans" font-weight="bold" >6</text>
<line x1="324.50" y1="314.80" x2="326.70" y2="314.80" stroke="#262626" stroke-width="1.2"/>
<line x1="324.50" y1="301.60" x2="326.70" y2="301.60" stroke="#262626" stroke-width="1.2"/>
<text x="316.40" y="307.20" font-size="10.00" text-anchor="middle" font-family="Liberation Sans" font-weight="bold" >8</text>
<line x1="324.50" y1="288.40" x2="326.70" y2="288.40" stroke="#262626" stroke-width="1.2"/>
<line x1="324.50" y1="275.20" x2="326.70" y2="275.20" stroke="#262626" stroke-width="1.2"/>
<text x="316.40" y="280.80" font-size="10.00" text-anchor="middle" font-family="Liberation Sans" font-weight="bold" >10</text>
<line x1="324.50" y1="262.00" x2="326.70" y2="262.00" stroke="#262626" stroke-width="1.2"/>
<line x1="326.60" y1="407.20" x2="326.60" y2="409.40" stroke="#262626" stroke-width="1.2"/>
<text x="326.90" y="423.20" font-size="10.00" text-anchor="middle" font-family="Liberation Sans" font-weight="bold" >0</text>
<line x1="352.76" y1="407.20" x2="352.76" y2="409.40" stroke="#262626" stroke-width="1.2"/>
<text x="353.06" y="423.20" font-size="10.00" text-anchor="middle" font-family="Liberation Sans" font-weight="bold" >1</text>
<line x1="378.92" y1="407.20" x2="378.92" y2="409.40" stroke="#262626" stroke-width="1.2"/>
<text x="379.22" y="423.20" font-size="10.00" text-anchor="middle" font-family="Liberation Sans" font-weight="bold" >2</text>
<line x1="405.08" y1="407.20" x2="405.08" y2="409.40" stroke="#262626" stroke-width="1.2"/>
<text x="405.38" y="423.20" font-size="10.00" text-anchor="middle" font-family="Liberation Sans" font-weight="bold" >3</text>
<line x1="431.24" y1="407.20" x2="431.24" y2="409.40" stroke="#262626" stroke-width="1.2"/>
<text x="431.54" y="423.20" font-size="10.00" text-anchor="middle" font-family="Liberation Sans" font-weight="bold" >4</text>
<line x1="457.40" y1="407.20" x2="457.40" y2="409.40" stroke="#262626" stroke-width="1.2"/>
<text x="457.70" y="423.20" font-size="10.00" text-anchor="middle" font-family="Liberation Sans" font-weight="bold" >5</text>
<line x1="483.56" y1="407.20" x2="483.56" y2="409.40" stroke="#262626" stroke-width="1.2"/>
<text x="483.86" y="423.20" font-size="10.00" text-anchor="middle" font-family="Liberation Sans" font-weight="bold" >6</text>
<line x1="509.72" y1="407.20" x2="509.72" y2="409.40" stroke="#262626" stroke-width="1.2"/>
<text x="510.02" y="423.20" font-size="10.00" text-anchor="middle" font-family="Liberation Sans" font-weight="bold" >7</text>
<text x="425.70" y="443.70" font-size="10.00" text-anchor="middle" font-family="Liberation Sans" font-weight="bold" >Days</text>
<text transform="translate(305.00,330.80) rotate(-90)" font-size="10.50" text-anchor="middle" font-family="Liberation Sans" font-weight="bold">OD 595 nM / D0 OD 595 nM</text>
<line x1="335.30" y1="264.20" x2="350.20" y2="264.20" stroke="#000" stroke-width="1.9"/>
<path d="M343.60,261.50L345.90,264.20L343.60,266.90L341.30,264.20Z" fill="#000"/>
<line x1="335.30" y1="274.10" x2="350.20" y2="274.10" stroke="#aaa" stroke-width="1.4"/>
<rect x="341.80" y="272.30" width="3.60" height="3.60" fill="#fff" stroke="#111" stroke-width="1.1"/>
<line x1="335.30" y1="283.90" x2="350.20" y2="283.90" stroke="#ececec" stroke-width="1.3"/>
<circle cx="343.60" cy="283.90" r="1.90" fill="#fff" stroke="#111" stroke-width="1.1"/>
<text x="355.50" y="265.60" font-size="8.60" text-anchor="start" font-family="Liberation Sans" font-weight="bold" >COST</text>
<text x="355.50" y="275.50" font-size="8.60" text-anchor="start" font-family="Liberation Sans" font-weight="bold" >10 &#181;M PP1</text>
<text x="355.50" y="285.30" font-size="8.60" text-anchor="start" font-family="Liberation Sans" font-weight="bold" >2 &#181;M SU6656</text>
<path d="M326.60,394.60L328.10,394.59L329.60,394.59L331.10,394.58L332.60,394.57L334.10,394.56L335.60,394.55L337.10,394.54L338.60,394.53L340.10,394.52L341.60,394.51L343.10,394.49L344.60,394.48L346.10,394.47L347.60,394.45L349.10,394.44L350.60,394.42L352.10,394.40L353.60,394.39L355.10,394.37L356.60,394.35L358.10,394.33L359.60,394.31L361.10,394.28L362.60,394.26L364.10,394.24L365.60,394.22L367.10,394.19L368.60,394.17L370.10,394.14L371.60,394.12L373.10,394.09L374.60,394.07L376.10,394.04L377.60,394.02L379.10,393.99L380.60,393.96L382.10,393.93L383.60,393.90L385.09,393.87L386.59,393.84L388.09,393.81L389.59,393.77L391.09,393.74L392.59,393.70L394.09,393.66L395.59,393.63L397.09,393.59L398.59,393.56L400.09,393.53L401.59,393.50L403.09,393.47L404.59,393.45L406.09,393.43L407.59,393.42L409.09,393.42L410.59,393.43L412.09,393.44L413.59,393.47L415.09,393.50L416.59,393.55L418.08,393.61L419.58,393.68L421.08,393.76L422.58,393.85L424.07,393.96L425.57,394.07L427.06,394.20L428.55,394.35L430.04,394.51L431.53,394.68L433.02,394.87L434.50,395.08L435.98,395.30L437.47,395.53L438.95,395.77L440.43,396.01L441.91,396.25L443.39,396.48L444.87,396.70L446.36,396.91L447.84,397.11L449.33,397.30L450.82,397.47L452.31,397.63L453.80,397.77L455.30,397.90L456.79,398.01L458.29,398.10L459.78,398.17L461.28,398.23L462.78,398.27L464.28,398.29L465.78,398.30L467.28,398.30L468.78,398.28L470.28,398.26L471.78,398.23L473.27,398.18L474.77,398.13L476.27,398.06L477.77,397.98L479.26,397.88L480.76,397.76L482.25,397.62L483.74,397.46L485.23,397.29L486.71,397.10L488.20,396.90L489.68,396.69L491.17,396.47L492.65,396.26L494.14,396.04L495.62,395.83L497.10,395.62L498.59,395.41L500.07,395.21L501.54,395.01L503.01,394.82L504.46,394.63L505.90,394.44L507.31,394.26L508.70,394.09L510.08,393.91L511.00,393.80" fill="none" stroke="#e0e0e0" stroke-width="1.40" stroke-linecap="round" stroke-linejoin="round"/>
<path d="M326.60,394.60L328.10,394.60L329.60,394.60L331.10,394.59L332.60,394.59L334.10,394.59L335.60,394.58L337.10,394.57L338.60,394.56L340.10,394.54L341.60,394.52L343.10,394.50L344.60,394.48L346.10,394.45L347.60,394.42L349.10,394.38L350.60,394.34L352.10,394.30L353.60,394.26L355.10,394.21L356.59,394.16L358.09,394.10L359.59,394.05L361.09,393.99L362.59,393.93L364.09,393.87L365.59,393.81L367.09,393.75L368.59,393.69L370.08,393.64L371.58,393.58L373.08,393.52L374.58,393.46L376.08,393.41L377.58,393.35L379.08,393.30L380.58,393.25L382.08,393.20L383.58,393.16L385.07,393.11L386.57,393.06L388.07,393.02L389.57,392.97L391.07,392.93L392.57,392.89L394.07,392.84L395.57,392.80L397.07,392.75L398.57,392.71L400.07,392.66L401.57,392.62L403.07,392.57L404.57,392.52L406.06,392.47L407.56,392.41L409.06,392.35L410.56,392.29L412.06,392.22L413.56,392.14L415.05,392.05L416.55,391.94L418.04,391.83L419.54,391.69L421.03,391.54L422.52,391.37L424.00,391.18L425.49,390.98L426.97,390.76L428.45,390.52L429.93,390.28L431.41,390.02L432.88,389.75L434.36,389.47L435.82,389.18L437.29,388.86L438.75,388.52L440.20,388.16L441.64,387.76L443.06,387.32L444.47,386.84L445.86,386.31L447.24,385.74L448.59,385.11L449.93,384.45L451.25,383.75L452.55,383.02L453.84,382.26L455.13,381.49L456.40,380.71L457.68,379.92L458.95,379.12L460.22,378.32L461.49,377.52L462.76,376.73L464.04,375.96L465.33,375.19L466.63,374.45L467.95,373.74L469.28,373.06L470.62,372.42L471.99,371.81L473.37,371.25L474.77,370.73L476.18,370.24L477.61,369.79L479.04,369.38L480.49,369.00L481.94,368.65L483.40,368.32L484.87,368.03L486.34,367.77L487.82,367.56L489.30,367.38L490.78,367.26L492.27,367.19L493.76,367.17L495.24,367.21L496.73,367.30L498.22,367.43L499.70,367.60L501.18,367.80L502.66,368.02L504.13,368.25L505.60,368.49L507.05,368.73L508.49,368.96L509.91,369.18L511.32,369.40L512.71,369.60L514.10,369.80L514.10,369.80" fill="none" stroke="#888" stroke-width="1.40" stroke-linecap="round" stroke-linejoin="round"/>
<path d="M326.60,394.60L328.10,394.57L329.60,394.54L331.10,394.51L332.60,394.47L334.10,394.42L335.59,394.36L337.09,394.29L338.59,394.20L340.09,394.11L341.58,394.00L343.08,393.89L344.57,393.77L346.07,393.64L347.56,393.50L349.05,393.37L350.55,393.24L352.04,393.12L353.54,393.00L355.03,392.89L356.53,392.78L358.03,392.68L359.52,392.59L361.02,392.49L362.52,392.39L364.01,392.29L365.51,392.18L367.00,392.07L368.50,391.95L369.99,391.82L371.49,391.68L372.98,391.53L374.47,391.36L375.95,391.18L377.44,390.97L378.92,390.75L380.39,390.49L381.86,390.21L383.33,389.91L384.79,389.57L386.24,389.20L387.68,388.80L389.12,388.38L390.55,387.93L391.97,387.46L393.39,386.98L394.80,386.48L396.21,385.97L397.62,385.45L399.02,384.92L400.42,384.39L401.82,383.85L403.21,383.29L404.60,382.73L405.99,382.15L407.36,381.56L408.73,380.95L410.10,380.33L411.45,379.69L412.80,379.04L414.15,378.38L415.49,377.71L416.83,377.04L418.17,376.37L419.51,375.69L420.85,375.01L422.18,374.32L423.50,373.61L424.81,372.89L426.11,372.15L427.39,371.38L428.65,370.58L429.90,369.75L431.12,368.90L432.33,368.01L433.52,367.11L434.69,366.18L435.85,365.22L436.99,364.25L438.11,363.26L439.22,362.26L440.31,361.23L441.38,360.18L442.42,359.11L443.45,358.02L444.45,356.91L445.44,355.78L446.40,354.63L447.33,353.47L448.25,352.28L449.15,351.09L450.04,349.88L450.90,348.65L451.74,347.41L452.57,346.16L453.38,344.90L454.16,343.63L454.93,342.34L455.68,341.04L456.41,339.74L457.13,338.42L457.84,337.10L458.54,335.77L459.24,334.45L459.93,333.12L460.62,331.79L461.32,330.46L462.02,329.13L462.73,327.81L463.45,326.49L464.18,325.18L464.92,323.88L465.68,322.59L466.45,321.31L467.24,320.03L468.05,318.77L468.88,317.52L469.72,316.28L470.58,315.06L471.45,313.84L472.34,312.63L473.23,311.43L474.14,310.23L475.06,309.05L475.99,307.87L476.93,306.71L477.89,305.55L478.85,304.40L479.83,303.27L480.82,302.14L481.83,301.03L482.85,299.94L483.89,298.86L484.95,297.81L486.04,296.78L487.15,295.78L488.28,294.80L489.44,293.86L490.61,292.94L491.81,292.04L493.03,291.17L494.26,290.32L495.51,289.49L496.77,288.67L498.04,287.88L499.32,287.10L500.61,286.34L501.91,285.60L503.21,284.86L504.52,284.14L505.83,283.42L507.13,282.69L508.42,281.96L509.69,281.22L510.95,280.46L512.18,279.70L513.39,278.93L514.60,278.16L515.00,277.90" fill="none" stroke="#000" stroke-width="1.55" stroke-linecap="round" stroke-linejoin="round"/>
<line x1="405.60" y1="378.80" x2="405.60" y2="371.40" stroke="#383838" stroke-width="1.25"/>
<line x1="431.80" y1="370.80" x2="431.80" y2="365.20" stroke="#383838" stroke-width="1.25"/>
<line x1="457.70" y1="334.20" x2="457.70" y2="328.60" stroke="#383838" stroke-width="1.25"/>
<line x1="485.00" y1="304.50" x2="485.00" y2="296.30" stroke="#383838" stroke-width="1.25"/>
<line x1="510.80" y1="282.00" x2="510.80" y2="272.50" stroke="#383838" stroke-width="1.25"/>
<line x1="431.80" y1="390.20" x2="431.80" y2="381.40" stroke="#383838" stroke-width="1.25"/>
<line x1="458.20" y1="377.90" x2="458.20" y2="365.10" stroke="#383838" stroke-width="1.25"/>
<line x1="484.30" y1="368.50" x2="484.30" y2="357.40" stroke="#383838" stroke-width="1.25"/>
<line x1="510.50" y1="369.60" x2="510.50" y2="356.40" stroke="#383838" stroke-width="1.25"/>
<circle cx="431.80" cy="395.80" r="2.00" fill="#fff" stroke="#111" stroke-width="1.1"/>
<circle cx="457.80" cy="398.40" r="2.00" fill="#fff" stroke="#111" stroke-width="1.1"/>
<circle cx="483.70" cy="398.00" r="2.00" fill="#fff" stroke="#111" stroke-width="1.1"/>
<circle cx="510.90" cy="394.00" r="2.00" fill="#fff" stroke="#111" stroke-width="1.1"/>
<rect x="350.90" y="393.10" width="3.80" height="3.80" fill="#fff" stroke="#111" stroke-width="1.1"/>
<rect x="377.00" y="387.80" width="3.80" height="3.80" fill="#fff" stroke="#111" stroke-width="1.1"/>
<rect x="403.70" y="390.80" width="3.80" height="3.80" fill="#fff" stroke="#111" stroke-width="1.1"/>
<rect x="429.90" y="388.30" width="3.80" height="3.80" fill="#fff" stroke="#111" stroke-width="1.1"/>
<rect x="456.30" y="376.00" width="3.80" height="3.80" fill="#fff" stroke="#111" stroke-width="1.1"/>
<rect x="482.40" y="366.60" width="3.80" height="3.80" fill="#fff" stroke="#111" stroke-width="1.1"/>
<rect x="508.60" y="367.70" width="3.80" height="3.80" fill="#fff" stroke="#111" stroke-width="1.1"/>
<path d="M326.60,392.00L329.20,394.60L326.60,397.20L324.00,394.60Z" fill="#000"/>
<path d="M352.80,390.10L355.40,392.70L352.80,395.30L350.20,392.70Z" fill="#000"/>
<path d="M378.90,393.30L381.50,395.90L378.90,398.50L376.30,395.90Z" fill="#000"/>
<path d="M405.60,376.20L408.20,378.80L405.60,381.40L403.00,378.80Z" fill="#000"/>
<path d="M431.80,368.20L434.40,370.80L431.80,373.40L429.20,370.80Z" fill="#000"/>
<path d="M457.70,331.60L460.30,334.20L457.70,336.80L455.10,334.20Z" fill="#000"/>
<path d="M485.00,301.90L487.60,304.50L485.00,307.10L482.40,304.50Z" fill="#000"/>
<path d="M510.80,279.40L513.40,282.00L510.80,284.60L508.20,282.00Z" fill="#000"/>
</svg>
</body></html>
